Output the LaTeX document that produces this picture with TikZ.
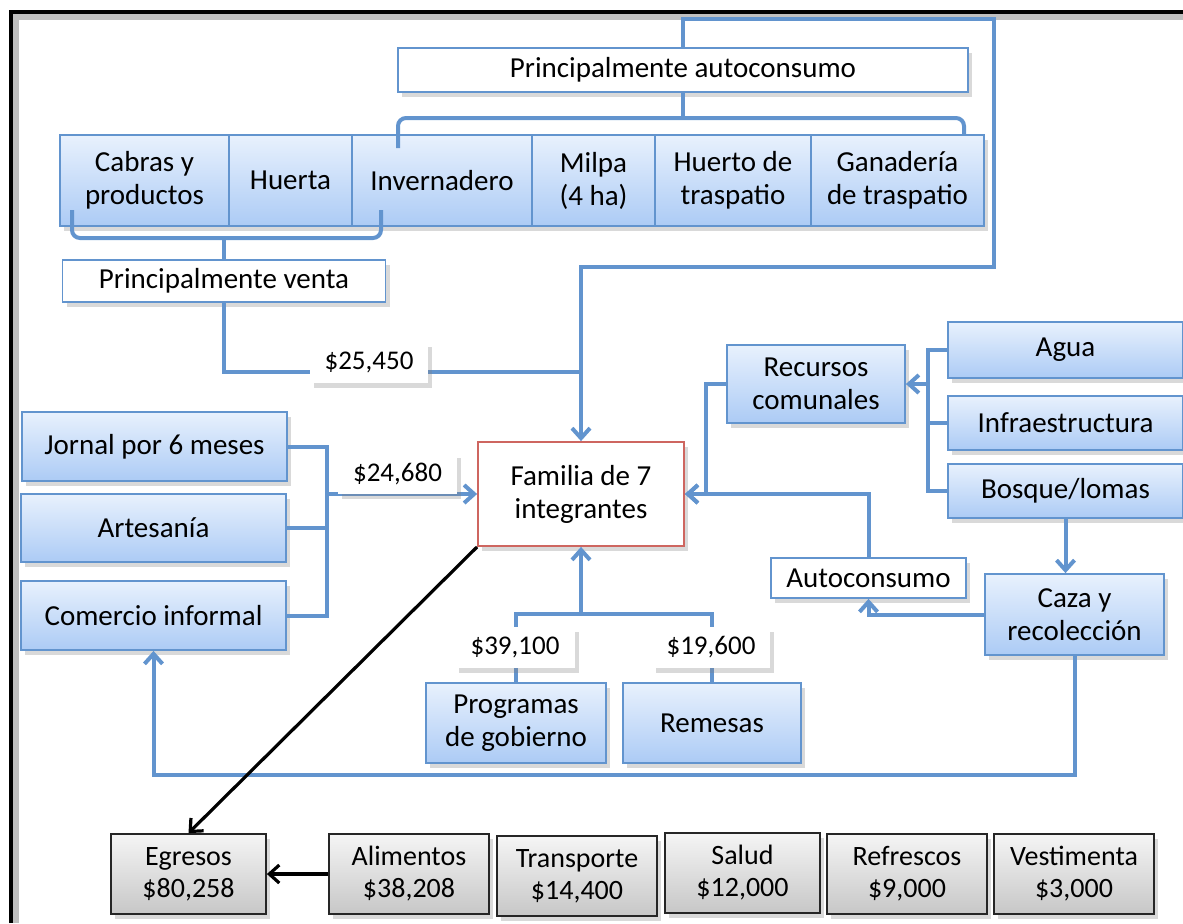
\documentclass[tikz,border=0pt]{standalone}
\usepackage{fontspec}
\setmainfont{Carlito}
\usepackage{tikz}
\usetikzlibrary{arrows.meta}
\usetikzlibrary{shadows}
\definecolor{azul}{RGB}{98,148,206}
\definecolor{azulclaro}{RGB}{232,241,253}
\definecolor{azulfondo}{RGB}{172,203,245}
\definecolor{rojo}{RGB}{206,102,96}

\begin{document}
\begin{tikzpicture}[x=0.5pt, y=-0.5pt]
\tikzstyle{caja}=[
    draw=azul,
    line width=0.9pt,
    top color=azulclaro,
    bottom color=azulfondo,
    inner sep=0pt,
    align=center,
    font=\fontsize{14.5}{16.5}\selectfont,
    drop shadow={shadow xshift=2pt, shadow yshift=-2.5pt, opacity=0.3}
]
\tikzstyle{blanca}=[caja, fill=white, top color=white, bottom color=white]
\tikzstyle{etiqueta}=[
    fill=white,
    inner sep=0pt,
    font=\fontsize{13.5}{15}\selectfont,
    drop shadow={shadow xshift=2pt, shadow yshift=-2.5pt, opacity=0.3}
]
\tikzstyle{gasto}=[
    draw=black!85,
    line width=0.9pt,
    top color=black!4,
    bottom color=black!22,
    inner sep=0pt,
    align=center,
    minimum height=40pt,
    font=\fontsize{14}{16}\selectfont,
    drop shadow={shadow xshift=2pt, shadow yshift=-2.5pt, opacity=0.3}
]
\tikzstyle{conector}=[draw=azul, line width=2pt]
\tikzstyle{punta}=[-{Straight Barb[length=5pt, width=9pt]}]
\tikzstyle{flecha}=[black, line width=1.6pt, -{Straight Barb[length=5pt, width=9pt]}]

\useasboundingbox (0,0) rectangle (1183,923);

% Marco
\draw[black!25, line width=3pt] (16,923) -- (16,17) -- (1183,17);
\draw[line width=2.4pt] (11,923) -- (11,12) -- (1183,12);

% Nodos
\node[blanca, minimum width=285pt, minimum height=22pt] (autotop) at (683,70) {Principalmente autoconsumo};

\node[caja, minimum width=84.5pt, minimum height=45.5pt] (cabras) at (144.5,180.5) {Cabras y\\productos};
\node[caja, minimum width=61.5pt, minimum height=45.5pt] (huerta) at (290.5,180.5) {Huerta};
\node[caja, minimum width=90pt, minimum height=45.5pt] (invernadero) at (442,180.5) {Invernadero};
\node[caja, minimum width=61.5pt, minimum height=45.5pt] (milpa) at (593.5,180.5) {Milpa\\(4 ha)};
\node[caja, minimum width=78pt, minimum height=45.5pt] (huerto) at (733,180.5) {Huerto de\\traspatio};
\node[caja, minimum width=86.5pt, minimum height=45.5pt] (ganaderia) at (897.5,180.5) {Ganadería\\de traspatio};

\node[blanca, minimum width=161.5pt, minimum height=21pt] (venta) at (224,281) {Principalmente venta};

\node[blanca, draw=rojo, minimum width=103pt, minimum height=52pt] (familia) at (581,494) {Familia de 7\\integrantes};

\node[caja, minimum width=132.5pt, minimum height=34.5pt] (jornal) at (154.5,446.5) {Jornal por 6 meses};
\node[caja, minimum width=132.5pt, minimum height=34pt] (artesania) at (153.5,528) {Artesanía};
\node[caja, minimum width=132.5pt, minimum height=34.5pt] (comercio) at (153.5,615.5) {Comercio informal};

\node[caja, minimum width=89pt, minimum height=39pt] (recursos) at (816,384) {Recursos\\comunales};
\node[caja, minimum width=117.5pt, minimum height=28pt] (agua) at (1065.5,350) {Agua};
\node[caja, minimum width=117.5pt, minimum height=27pt] (infra) at (1065.5,423) {Infraestructura};
\node[caja, minimum width=117.5pt, minimum height=27pt] (bosque) at (1065.5,491) {Bosque/lomas};

\node[blanca, minimum width=97.5pt, minimum height=20pt] (autoconsumo) at (868.5,578) {Autoconsumo};
\node[caja, minimum width=89.5pt, minimum height=40.5pt] (caza) at (1074.5,614.5) {Caza y\\recolección};

\node[caja, minimum width=90pt, minimum height=40pt] (programas) at (516,723) {Programas\\de gobierno};
\node[caja, minimum width=89pt, minimum height=40pt] (remesas) at (712,723) {Remesas};

\node[gasto, minimum width=77.5pt] (egresos) at (188.5,874) {Egresos\\\$80,258};
\node[gasto, minimum width=80pt] (alimentos) at (409,874) {Alimentos\\\$38,208};
\node[gasto, minimum width=80pt] (transporte) at (577,876) {Transporte\\\$14,400};
\node[gasto, minimum width=77.5pt] (salud) at (742.5,873) {Salud\\\$12,000};
\node[gasto, minimum width=80pt] (refrescos) at (907,874) {Refrescos\\\$9,000};
\node[gasto, minimum width=80pt] (vestimenta) at (1074,874) {Vestimenta\\\$3,000};

% Llaves
\draw[conector] (autotop.south) -- (683,118);
\draw[conector, rounded corners=4pt] (398,148) -- (398,118) -- (964,118) -- (964,135);
\draw[conector, rounded corners=4pt] (72,210) -- (72,238) -- (381,238) -- (381,210);
\draw[conector] (224,238) -- (venta.north);

% Conectores
\draw[conector, punta] (autotop.north) -- (683,19) -- (994,19) -- (994,267) -| (familia.north);
\draw[conector] (venta.south) |- (581,372);

\draw[conector] (jornal.east) -| (327,615.5) -- (comercio.east);
\draw[conector] (artesania.east) -- (327,528);
\draw[conector, punta] (327,494) -- (familia.west);

\draw[conector] (agua.west) -| (928,491) -- (bosque.west);
\draw[conector] (infra.west) -- (928,423);
\draw[conector, punta] (928,384) -- (recursos.east);
\draw[conector, punta] (recursos.west) -- (706,384) |- (familia.east);
\draw[conector, punta] (autoconsumo.north) |- (familia.east);

\draw[conector, punta] (bosque.south) -- (bosque.south |- caza.north);
\draw[conector, punta] (caza.west) -| (autoconsumo.south);
\draw[conector, punta] (caza.south) -- (1074.5,775) -| (comercio.south);

\draw[conector] (programas.north) -- (516,614) -| (remesas.north);
\draw[conector, punta] (581,614) -- (familia.south);

\draw[flecha] (familia.south west) -- (egresos.north);
\draw[flecha] (alimentos.west) -- (egresos.east);

% Etiquetas
\node[etiqueta, minimum width=59pt, minimum height=20.5pt] (e1) at (369,362.5) {\$25,450};
\node[etiqueta, minimum width=59.5pt, minimum height=20.5pt] (e2) at (397.5,473.5) {\$24,680};
\node[etiqueta, minimum width=60pt, minimum height=20.5pt] (e3) at (515,647.5) {\$39,100};
\node[etiqueta, minimum width=59pt, minimum height=20.5pt] (e4) at (711,647.5) {\$19,600};

\end{tikzpicture}
\end{document}
